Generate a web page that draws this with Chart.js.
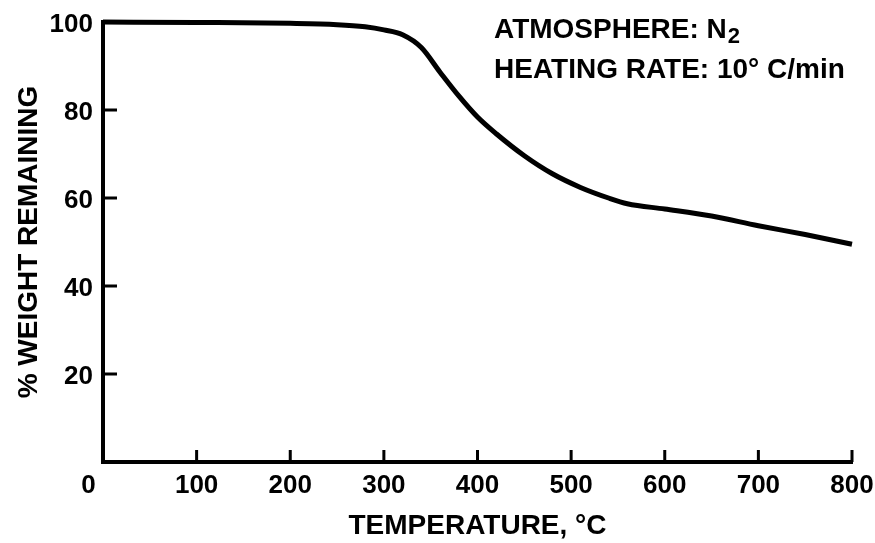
<!DOCTYPE html>
<html>
<head>
<meta charset="utf-8">
<title>TGA curve</title>
<script src="https://cdn.jsdelivr.net/npm/chart.js@4/dist/chart.umd.min.js"></script>
<style>
  html, body { margin: 0; padding: 0; background: #fff; }
  #wrap { width: 875px; height: 543px; }
</style>
</head>
<body>
<div id="wrap"><canvas id="tgaChart"></canvas></div>
<script>
// thermogravimetric curve
const temperature = [0, 100, 200, 250, 280, 300, 320, 340, 360, 380, 400, 420, 450, 480, 510, 540, 560, 600, 650, 700, 750, 800];
const weightRemaining = [100, 99.9, 99.7, 99.4, 98.9, 98.2, 97.1, 94.2, 88.6, 83.2, 78.4, 74.6, 69.6, 65.5, 62.4, 60.0, 58.7, 57.5, 55.9, 53.7, 51.7, 49.5];

const xTickValues = [0, 100, 200, 300, 400, 500, 600, 700, 800];
const yTickValues = [20, 40, 60, 80, 100];

const noteAtmosphere = 'ATMOSPHERE: N';
const noteSubscript = '2';
const noteRate = 'HEATING RATE: 10\u00B0 C/min';

const FONT = '"Liberation Sans", Arial, Helvetica, sans-serif';

/**
 * Short inward tick marks (the library only draws them outward)
 * plus the two-line note in the top right corner.
 */
const decorPlugin = {
  id: 'decor',
  afterDraw(chart) {
    const ctx = chart.ctx;
    const x = chart.scales.x;
    const y = chart.scales.y;
    const area = chart.chartArea;
    ctx.save();
    ctx.strokeStyle = '#000';
    ctx.lineWidth = 3;
    ctx.beginPath();
    xTickValues.forEach((v) => {
      if (v === 0) return;
      const px = x.getPixelForValue(v);
      ctx.moveTo(px, area.bottom);
      ctx.lineTo(px, area.bottom - 12);
    });
    yTickValues.forEach((v) => {
      if (v === 100) return;
      const py = y.getPixelForValue(v);
      ctx.moveTo(area.left, py);
      ctx.lineTo(area.left + 14, py);
    });
    ctx.stroke();

    // note text
    ctx.fillStyle = '#000';
    ctx.textBaseline = 'alphabetic';
    ctx.textAlign = 'left';
    ctx.font = 'bold 28px ' + FONT;
    ctx.fillText(noteAtmosphere, 494, 38);
    const w = ctx.measureText(noteAtmosphere).width;
    ctx.font = 'bold 22px ' + FONT;
    ctx.fillText(noteSubscript, 494 + w + 1, 43);
    ctx.font = 'bold 28px ' + FONT;
    ctx.fillText(noteRate, 494, 78);
    ctx.restore();
  },
};

function initChart() {
  const ctx = document.getElementById('tgaChart').getContext('2d');
  const points = temperature.map((t, i) => ({ x: t, y: weightRemaining[i] }));
  new Chart(ctx, {
    type: 'line',
    data: {
      datasets: [
        {
          data: points,
          borderColor: '#000',
          borderWidth: 5,
          pointRadius: 0,
          cubicInterpolationMode: 'monotone',
          fill: false,
          clip: false,
        },
      ],
    },
    options: {
      animation: false,
      responsive: true,
      maintainAspectRatio: false,
      layout: { padding: { left: 0, right: 23, top: 22, bottom: 0 } },
      plugins: {
        legend: { display: false },
        tooltip: { enabled: false },
      },
      scales: {
        x: {
          type: 'linear',
          min: 0,
          max: 800,
          afterBuildTicks: (scale) => {
            scale.ticks = xTickValues.map((v) => ({ value: v }));
          },
          afterFit: (scale) => {
            scale.height = 81;
            // keep the "800" label from pulling the plot in
            scale.paddingLeft = 0;
            scale.paddingRight = 0;
          },
          ticks: {
            color: '#000',
            font: { family: FONT, size: 26, weight: 'bold' },
            padding: 8,
            maxRotation: 0,
            autoSkip: false,
            // the zero sits a little left of the corner in the original
            callback: (v) => (v === 0 ? '0    ' : String(v)),
          },
          grid: { display: false, drawTicks: false },
          border: { display: true, color: '#000', width: 4 },
          title: {
            display: true,
            text: 'TEMPERATURE, \u00B0C',
            color: '#000',
            font: { family: FONT, size: 28, weight: 'bold' },
            padding: { top: 0, bottom: 0 },
          },
        },
        y: {
          min: 0,
          max: 100,
          afterBuildTicks: (scale) => {
            scale.ticks = yTickValues.map((v) => ({ value: v }));
          },
          afterFit: (scale) => {
            scale.width = 103;
            scale.paddingTop = 0;
            scale.paddingBottom = 0;
          },
          ticks: {
            color: '#000',
            font: { family: FONT, size: 26, weight: 'bold' },
            padding: 10,
            labelOffset: 3,
            autoSkip: false,
          },
          grid: { display: false, drawTicks: false },
          border: { display: true, color: '#000', width: 4 },
          title: {
            display: true,
            text: '% WEIGHT REMAINING',
            color: '#000',
            font: { family: FONT, size: 28, weight: 'bold' },
            padding: { top: 12, bottom: 0 },
          },
        },
      },
    },
    plugins: [decorPlugin],
  });
}

document.addEventListener('DOMContentLoaded', initChart);
</script>
</body>
</html>
